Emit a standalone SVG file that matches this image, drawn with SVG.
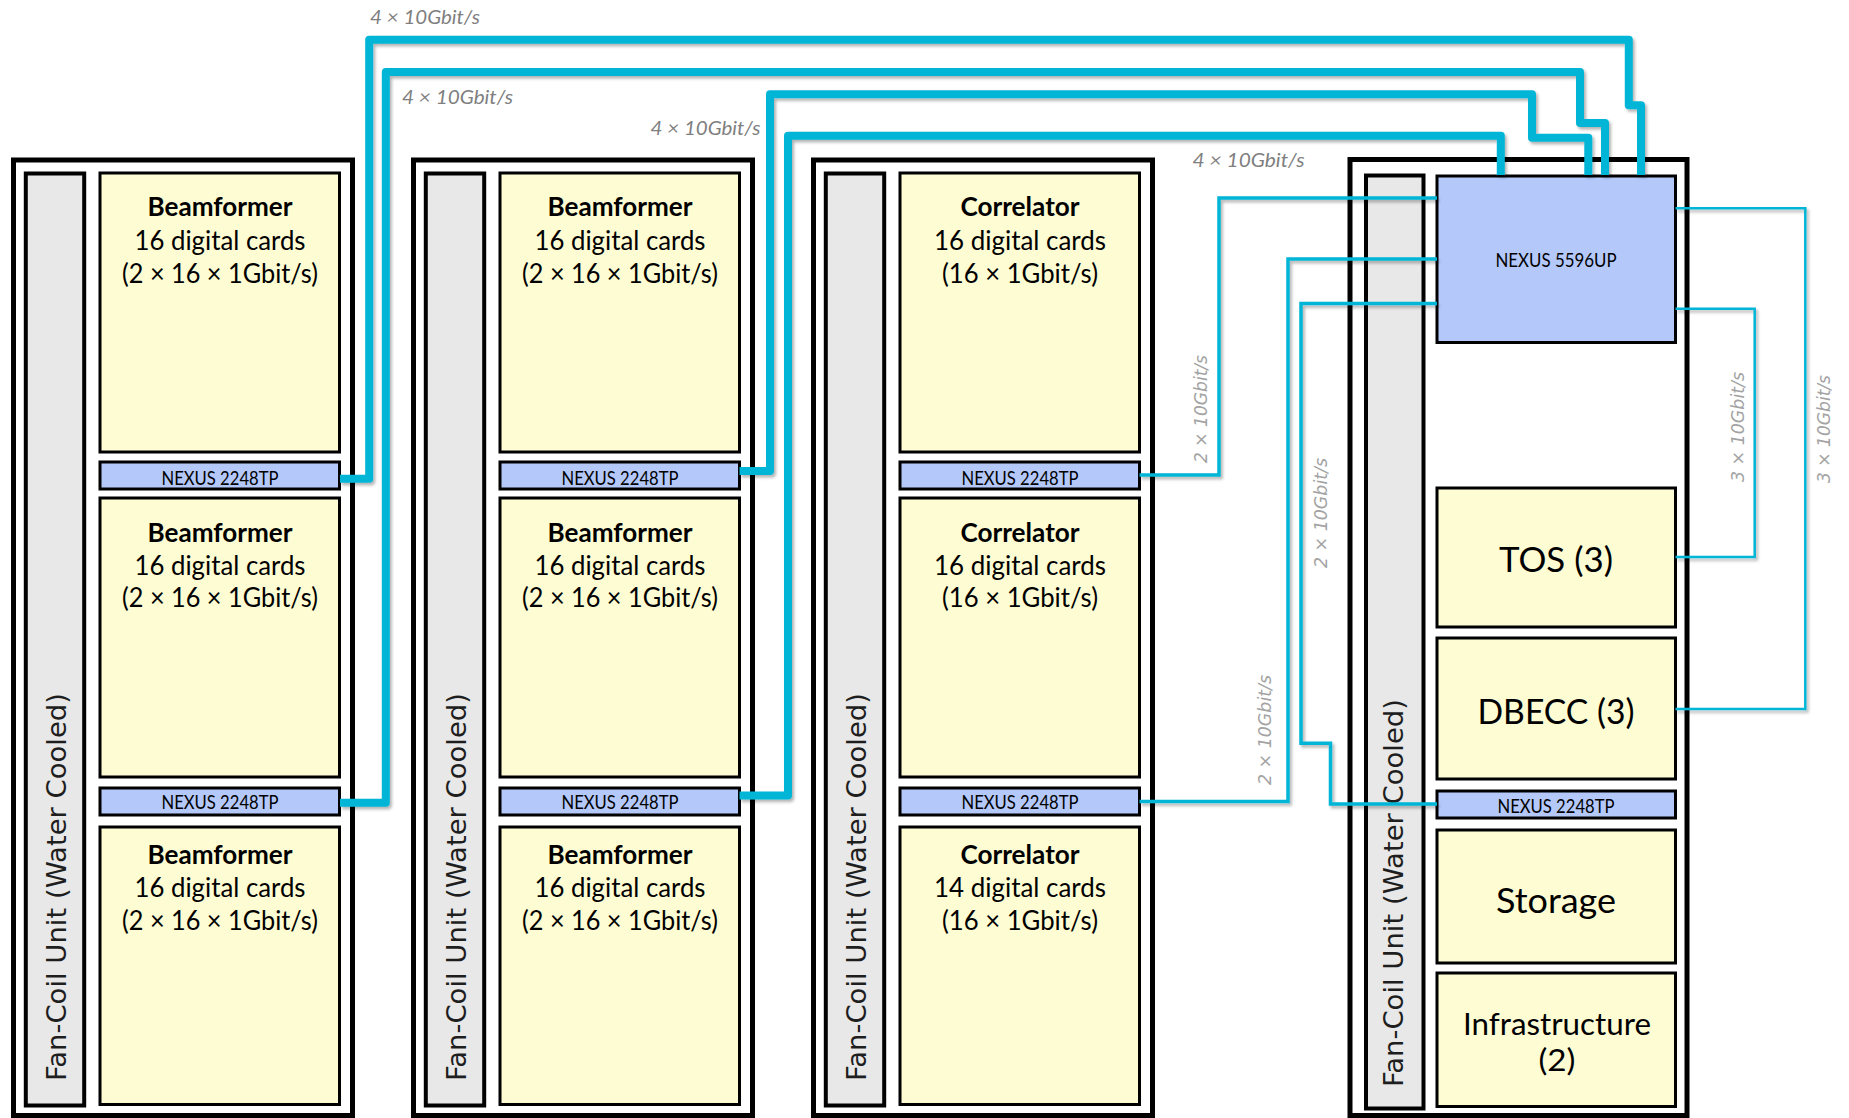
<svg xmlns="http://www.w3.org/2000/svg" width="1849" height="1118" viewBox="0 0 1849 1118">
<defs>
<style>
.rack{fill:#fff;stroke:#000;stroke-width:5}
.fan{fill:#e8e8e8;stroke:#000;stroke-width:4}
.box{fill:#fefcd3;stroke:#000;stroke-width:3}
.nx{fill:#b4c8fa;stroke:#000;stroke-width:3}
.t{font-family:Lato,'Open Sans',sans-serif;fill:#000;text-anchor:middle}
.b{font-weight:bold}
.m{font-size:26px}
.n{font-size:19px}
.big{font-size:34.5px}
.inf{font-size:31px}
.fc{font-family:'DejaVu Sans',Verdana,sans-serif;font-size:26px;fill:#1e1e1e;text-anchor:middle}
.lbl{font-family:Lato,'Open Sans',sans-serif;font-style:italic;font-size:19.5px;fill:#7f7f7f}
.vl{font-family:'DejaVu Sans',sans-serif;font-style:italic;font-size:17.5px;fill:#a3a3a3;text-anchor:middle}
.thick{fill:none;stroke:#00b5d6;stroke-width:8;stroke-linejoin:round}
.thin{fill:none;stroke:#00b5d6;stroke-width:3.5}
.thin2{fill:none;stroke:#00b5d6;stroke-width:2.5}
</style>
<filter id="sh" filterUnits="userSpaceOnUse" x="0" y="0" width="1849" height="1118">
<feDropShadow dx="2" dy="2.5" stdDeviation="1.5" flood-color="#000" flood-opacity="0.3"/>
</filter>
</defs>
<rect width="1849" height="1118" fill="#fff"/>

<!-- Rack 1 -->
<g id="rack1">
<rect class="rack" x="13.5" y="160" width="339" height="955.5"/>
</g>
<g id="rack1-fcu">
<rect class="fan" x="25.8" y="173.5" width="58.4" height="932"/>
<text class="fc" transform="translate(65.5,887) rotate(-90)" textLength="388" lengthAdjust="spacingAndGlyphs">Fan-Coil Unit (Water Cooled)</text>
</g>
<g id="rack1-bf1">
<rect class="box" x="100" y="173" width="239.5" height="279"/>
<text class="t m b" x="220" y="216" textLength="145" lengthAdjust="spacingAndGlyphs">Beamformer</text>
<text class="t m" x="220" y="250" textLength="171" lengthAdjust="spacingAndGlyphs">16 digital cards</text>
<text class="t m" x="220" y="283" textLength="196" lengthAdjust="spacingAndGlyphs">(2 × 16 × 1Gbit/s)</text>
</g>
<g id="rack1-nx1">
<rect class="nx" x="100" y="462" width="239.5" height="27"/>
<text class="t n" x="220" y="485" textLength="117" lengthAdjust="spacingAndGlyphs">NEXUS 2248TP</text>
</g>
<g id="rack1-bf2">
<rect class="box" x="100" y="498" width="239.5" height="279"/>
<text class="t m b" x="220" y="542" textLength="145" lengthAdjust="spacingAndGlyphs">Beamformer</text>
<text class="t m" x="220" y="575" textLength="171" lengthAdjust="spacingAndGlyphs">16 digital cards</text>
<text class="t m" x="220" y="607" textLength="196" lengthAdjust="spacingAndGlyphs">(2 × 16 × 1Gbit/s)</text>
</g>
<g id="rack1-nx2">
<rect class="nx" x="100" y="788" width="239.5" height="27"/>
<text class="t n" x="220" y="809" textLength="117" lengthAdjust="spacingAndGlyphs">NEXUS 2248TP</text>
</g>
<g id="rack1-bf3">
<rect class="box" x="100" y="827" width="239.5" height="277.5"/>
<text class="t m b" x="220" y="864" textLength="145" lengthAdjust="spacingAndGlyphs">Beamformer</text>
<text class="t m" x="220" y="897" textLength="171" lengthAdjust="spacingAndGlyphs">16 digital cards</text>
<text class="t m" x="220" y="930" textLength="196" lengthAdjust="spacingAndGlyphs">(2 × 16 × 1Gbit/s)</text>
</g>

<!-- Rack 2 -->
<g id="rack2">
<rect class="rack" x="413.5" y="160" width="339" height="955.5"/>
</g>
<g id="rack2-fcu">
<rect class="fan" x="425.8" y="173.5" width="58.4" height="932"/>
<text class="fc" transform="translate(465.5,887) rotate(-90)" textLength="388" lengthAdjust="spacingAndGlyphs">Fan-Coil Unit (Water Cooled)</text>
</g>
<g id="rack2-bf1">
<rect class="box" x="500" y="173" width="239.5" height="279"/>
<text class="t m b" x="620" y="216" textLength="145" lengthAdjust="spacingAndGlyphs">Beamformer</text>
<text class="t m" x="620" y="250" textLength="171" lengthAdjust="spacingAndGlyphs">16 digital cards</text>
<text class="t m" x="620" y="283" textLength="196" lengthAdjust="spacingAndGlyphs">(2 × 16 × 1Gbit/s)</text>
</g>
<g id="rack2-nx1">
<rect class="nx" x="500" y="462" width="239.5" height="27"/>
<text class="t n" x="620" y="485" textLength="117" lengthAdjust="spacingAndGlyphs">NEXUS 2248TP</text>
</g>
<g id="rack2-bf2">
<rect class="box" x="500" y="498" width="239.5" height="279"/>
<text class="t m b" x="620" y="542" textLength="145" lengthAdjust="spacingAndGlyphs">Beamformer</text>
<text class="t m" x="620" y="575" textLength="171" lengthAdjust="spacingAndGlyphs">16 digital cards</text>
<text class="t m" x="620" y="607" textLength="196" lengthAdjust="spacingAndGlyphs">(2 × 16 × 1Gbit/s)</text>
</g>
<g id="rack2-nx2">
<rect class="nx" x="500" y="788" width="239.5" height="27"/>
<text class="t n" x="620" y="809" textLength="117" lengthAdjust="spacingAndGlyphs">NEXUS 2248TP</text>
</g>
<g id="rack2-bf3">
<rect class="box" x="500" y="827" width="239.5" height="277.5"/>
<text class="t m b" x="620" y="864" textLength="145" lengthAdjust="spacingAndGlyphs">Beamformer</text>
<text class="t m" x="620" y="897" textLength="171" lengthAdjust="spacingAndGlyphs">16 digital cards</text>
<text class="t m" x="620" y="930" textLength="196" lengthAdjust="spacingAndGlyphs">(2 × 16 × 1Gbit/s)</text>
</g>

<!-- Rack 3 -->
<g id="rack3">
<rect class="rack" x="813.5" y="160" width="339" height="955.5"/>
</g>
<g id="rack3-fcu">
<rect class="fan" x="825.8" y="173.5" width="58.4" height="932"/>
<text class="fc" transform="translate(865.5,887) rotate(-90)" textLength="388" lengthAdjust="spacingAndGlyphs">Fan-Coil Unit (Water Cooled)</text>
</g>
<g id="rack3-cor1">
<rect class="box" x="900" y="173" width="239.5" height="279"/>
<text class="t m b" x="1020" y="216" textLength="119" lengthAdjust="spacingAndGlyphs">Correlator</text>
<text class="t m" x="1020" y="250" textLength="172" lengthAdjust="spacingAndGlyphs">16 digital cards</text>
<text class="t m" x="1020" y="283" textLength="156" lengthAdjust="spacingAndGlyphs">(16 × 1Gbit/s)</text>
</g>
<g id="rack3-nx1">
<rect class="nx" x="900" y="462" width="239.5" height="27"/>
<text class="t n" x="1020" y="485" textLength="117" lengthAdjust="spacingAndGlyphs">NEXUS 2248TP</text>
</g>
<g id="rack3-cor2">
<rect class="box" x="900" y="498" width="239.5" height="279"/>
<text class="t m b" x="1020" y="542" textLength="119" lengthAdjust="spacingAndGlyphs">Correlator</text>
<text class="t m" x="1020" y="575" textLength="172" lengthAdjust="spacingAndGlyphs">16 digital cards</text>
<text class="t m" x="1020" y="607" textLength="156" lengthAdjust="spacingAndGlyphs">(16 × 1Gbit/s)</text>
</g>
<g id="rack3-nx2">
<rect class="nx" x="900" y="788" width="239.5" height="27"/>
<text class="t n" x="1020" y="809" textLength="117" lengthAdjust="spacingAndGlyphs">NEXUS 2248TP</text>
</g>
<g id="rack3-cor3">
<rect class="box" x="900" y="827" width="239.5" height="277.5"/>
<text class="t m b" x="1020" y="864" textLength="119" lengthAdjust="spacingAndGlyphs">Correlator</text>
<text class="t m" x="1020" y="897" textLength="172" lengthAdjust="spacingAndGlyphs">14 digital cards</text>
<text class="t m" x="1020" y="930" textLength="156" lengthAdjust="spacingAndGlyphs">(16 × 1Gbit/s)</text>
</g>

<!-- Rack 4 -->
<g id="rack4">
<rect class="rack" x="1350" y="159.5" width="337" height="956"/>
</g>
<g id="rack4-fcu">
<rect class="fan" x="1366" y="175.5" width="57.5" height="933"/>
<text class="fc" transform="translate(1403,893) rotate(-90)" textLength="388" lengthAdjust="spacingAndGlyphs">Fan-Coil Unit (Water Cooled)</text>
</g>
<g id="rack4-nexus5596">
<rect class="nx" x="1437" y="176" width="238.5" height="166.5"/>
<text class="t n" x="1556" y="267" textLength="121" lengthAdjust="spacingAndGlyphs">NEXUS 5596UP</text>
</g>
<g id="rack4-tos">
<rect class="box" x="1437" y="488" width="238.5" height="139"/>
<text class="t big" x="1556" y="572" textLength="114" lengthAdjust="spacingAndGlyphs">TOS (3)</text>
</g>
<g id="rack4-dbecc">
<rect class="box" x="1437" y="638" width="238.5" height="141"/>
<text class="t big" x="1556" y="724" textLength="157" lengthAdjust="spacingAndGlyphs">DBECC (3)</text>
</g>
<g id="rack4-nx">
<rect class="nx" x="1437" y="791" width="238.5" height="27"/>
<text class="t n" x="1556" y="813" textLength="117" lengthAdjust="spacingAndGlyphs">NEXUS 2248TP</text>
</g>
<g id="rack4-storage">
<rect class="box" x="1437" y="830" width="238.5" height="133"/>
<text class="t big" x="1556" y="913" textLength="120" lengthAdjust="spacingAndGlyphs">Storage</text>
</g>
<g id="rack4-infra">
<rect class="box" x="1437" y="973" width="238.5" height="133.5"/>
<text class="t inf" x="1557" y="1035" textLength="188" lengthAdjust="spacingAndGlyphs">Infrastructure</text>
<text class="t inf" x="1557" y="1071" textLength="37" lengthAdjust="spacingAndGlyphs">(2)</text>
</g>

<!-- Connectors -->
<g id="connectors" filter="url(#sh)">
<path class="thick" d="M340,478.8 H369.2 V39.7 H1628.8 V105.3 H1641 V175"/>
<path class="thick" d="M340,802.8 H385.8 V72 H1580 V123 H1605 V175"/>
<path class="thick" d="M739.5,471 H770 V94.2 H1532 V137.8 H1588.3 V175"/>
<path class="thick" d="M739.5,795.5 H788 V135.8 H1500.8 V175"/>
<path class="thin" d="M1437,198 H1219 V475 H1139.5"/>
<path class="thin" d="M1437,259 H1288 V801.5 H1139.5"/>
<path class="thin" d="M1437,303.5 H1301 V743.3 H1330.5 V804 H1437"/>
<path class="thin2" d="M1675.5,208.3 H1805.3 V709 H1675.5"/>
<path class="thin2" d="M1675.5,308.7 H1754.7 V557 H1675.5"/>
</g>

<!-- Connector labels -->
<g id="connector-labels">
<text class="lbl" x="370" y="23.5" textLength="110" lengthAdjust="spacingAndGlyphs">4 × 10Gbit/s</text>
<text class="lbl" x="402" y="103.5" textLength="111" lengthAdjust="spacingAndGlyphs">4 × 10Gbit/s</text>
<text class="lbl" x="650.5" y="135" textLength="110" lengthAdjust="spacingAndGlyphs">4 × 10Gbit/s</text>
<text class="lbl" x="1192.5" y="166.5" textLength="112" lengthAdjust="spacingAndGlyphs">4 × 10Gbit/s</text>
<text class="vl" transform="translate(1206.5,409) rotate(-90)" textLength="108" lengthAdjust="spacingAndGlyphs">2 × 10Gbit/s</text>
<text class="vl" transform="translate(1326.5,513) rotate(-90)" textLength="110" lengthAdjust="spacingAndGlyphs">2 × 10Gbit/s</text>
<text class="vl" transform="translate(1271,730) rotate(-90)" textLength="110" lengthAdjust="spacingAndGlyphs">2 × 10Gbit/s</text>
<text class="vl" transform="translate(1743.5,427) rotate(-90)" textLength="110" lengthAdjust="spacingAndGlyphs">3 × 10Gbit/s</text>
<text class="vl" transform="translate(1830,429) rotate(-90)" textLength="108" lengthAdjust="spacingAndGlyphs">3 × 10Gbit/s</text>
</g>
</svg>
